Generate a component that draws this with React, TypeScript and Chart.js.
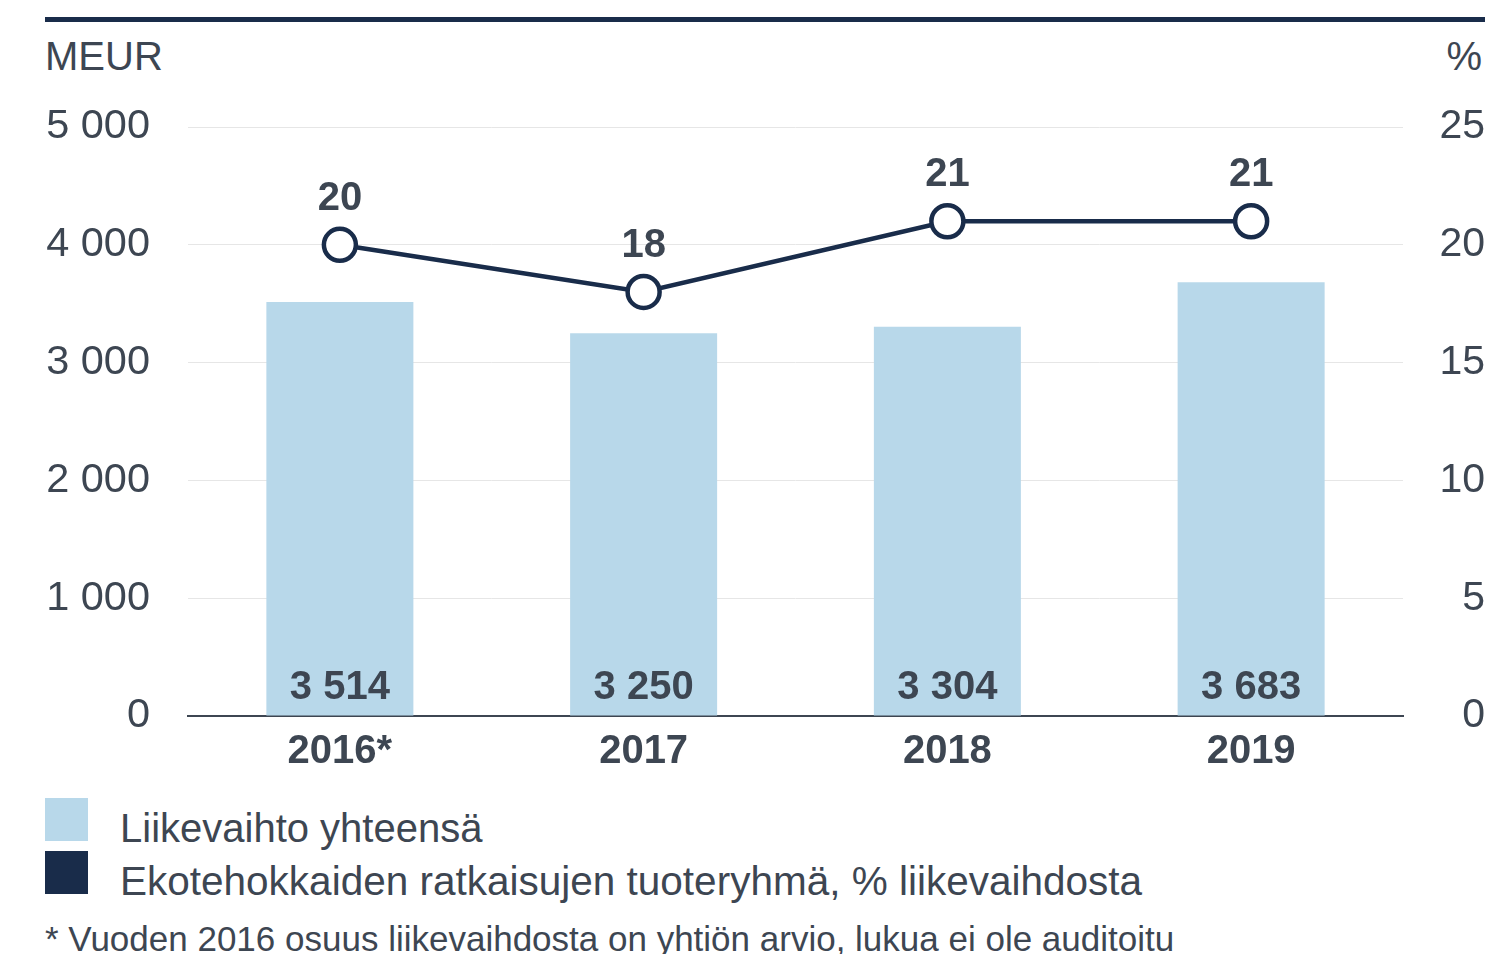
import React, { useEffect, useRef } from "react";
import { Chart, registerables } from "chart.js";

Chart.register(...registerables);

const categories: string[] = ["2016*", "2017", "2018", "2019"];
const revenue: number[] = [3514, 3250, 3304, 3683];
const ecoShare: number[] = [20, 18, 21, 21];
const leftTicks: number[] = [0, 1000, 2000, 3000, 4000, 5000];
const rightTicks: number[] = [0, 5, 10, 15, 20, 25];
const legendLabels: string[] = [
  "Liikevaihto yhteensä",
  "Ekotehokkaiden ratkaisujen tuoteryhmä, % liikevaihdosta",
];
const footnote = "* Vuoden 2016 osuus liikevaihdosta on yhtiön arvio, lukua ei ole auditoitu";
const leftUnit = "MEUR";
const rightUnit = "%";

const TEXT = "#3d4652";
const NAVY = "#192c4a";
const BAR = "#b8d8ea";
const FONT = "'Liberation Sans', Arial, Helvetica, sans-serif";

const fmt = (v: number) => {
  const s = String(Math.round(v));
  return s.replace(/\B(?=(\d{3})+(?!\d))/g, " ");
};

const labelsPlugin = {
  id: "valueLabels",
  afterDatasetsDraw(chart: any) {
    const ctx = chart.ctx;
    ctx.save();
    ctx.fillStyle = TEXT;
    ctx.font = `bold 40px ${FONT}`;
    ctx.textAlign = "center";
    ctx.textBaseline = "middle";
    const barMeta = chart.getDatasetMeta(1);
    barMeta.data.forEach((el: any, i: number) => {
      const v = chart.data.datasets[1].data[i] as number;
      ctx.fillText(fmt(v), el.x, el.base - 28);
    });
    const lineMeta = chart.getDatasetMeta(0);
    lineMeta.data.forEach((el: any, i: number) => {
      const v = chart.data.datasets[0].data[i] as number;
      ctx.fillText(String(v), el.x, el.y - 46);
    });
    ctx.restore();
  },
};

export default function App() {
  const ref = useRef<HTMLCanvasElement>(null);
  useEffect(() => {
    document.body.style.margin = "0";
    const chart = new Chart(ref.current!, {
      type: "bar",
      data: {
        labels: categories,
        datasets: [
          {
            type: "line",
            data: ecoShare,
            yAxisID: "y2",
            borderColor: NAVY,
            borderWidth: 4.5,
            pointRadius: 16,
            pointBorderWidth: 4.5,
            pointBackgroundColor: "#ffffff",
            pointBorderColor: NAVY,
            order: 0,
          } as any,
          {
            type: "bar",
            data: revenue,
            yAxisID: "y",
            backgroundColor: BAR,
            categoryPercentage: 1,
            barPercentage: 0.484,
            order: 1,
          },
        ],
      },
      options: {
        animation: false,
        responsive: false,
        layout: { padding: { left: 45, right: 6, top: 127, bottom: 16 } },
        plugins: { legend: { display: false }, tooltip: { enabled: false } },
        scales: {
          x: {
            grid: { display: false, drawTicks: false },
            border: { display: true, color: TEXT, width: 2 },
            ticks: {
              padding: 12,
              color: TEXT,
              font: { family: FONT, size: 40, weight: "bold" },
            },
          },
          y: {
            position: "left",
            min: 0,
            max: 5000,
            afterBuildTicks: (s: any) => {
              s.ticks = leftTicks.map((v) => ({ value: v }));
            },
            afterFit: (s: any) => {
              s.width = 143;
            },
            grid: { color: "#e6e6e6", lineWidth: 1, drawTicks: false },
            border: { display: false },
            ticks: {
              padding: 38,
              color: TEXT,
              font: { family: FONT, size: 41.5 },
              callback: (v: any) => fmt(Number(v)),
            },
          },
          y2: {
            position: "right",
            min: 0,
            max: 25,
            afterBuildTicks: (s: any) => {
              s.ticks = rightTicks.map((v) => ({ value: v }));
            },
            afterFit: (s: any) => {
              s.width = 82;
            },
            grid: { display: false, drawTicks: false },
            border: { display: false },
            ticks: {
              padding: 0,
              crossAlign: "far",
              color: TEXT,
              font: { family: FONT, size: 41 },
            },
          },
        },
      } as any,
      plugins: [labelsPlugin],
    });
    return () => chart.destroy();
  }, []);

  const textStyle: React.CSSProperties = {
    position: "absolute",
    fontFamily: FONT,
    fontSize: 40,
    lineHeight: "48px",
    color: TEXT,
    whiteSpace: "nowrap",
  };

  return (
    <div
      style={{
        position: "absolute",
        left: 0,
        top: 0,
        width: 1491,
        height: 954,
        overflow: "hidden",
        background: "#ffffff",
      }}
    >
      <div style={{ position: "absolute", left: 45, top: 17, width: 1440, height: 5, background: NAVY }} />
      <div style={{ ...textStyle, left: 45, top: 32 }}>{leftUnit}</div>
      <div style={{ ...textStyle, right: 9, top: 32 }}>{rightUnit}</div>
      <canvas
        ref={ref}
        width={1491}
        height={804}
        style={{ position: "absolute", left: 0, top: 0, width: 1491, height: 804 }}
      />
      <div style={{ position: "absolute", left: 45, top: 798, width: 43, height: 43, background: BAR }} />
      <div style={{ position: "absolute", left: 45, top: 851, width: 43, height: 43, background: NAVY }} />
      <div style={{ ...textStyle, left: 120, top: 804 }}>{legendLabels[0]}</div>
      <div style={{ ...textStyle, left: 120, top: 857, fontSize: 40.5 }}>{legendLabels[1]}</div>
      <div style={{ ...textStyle, left: 45, top: 918, fontSize: 35, lineHeight: "42px" }}>{footnote}</div>
    </div>
  );
}
